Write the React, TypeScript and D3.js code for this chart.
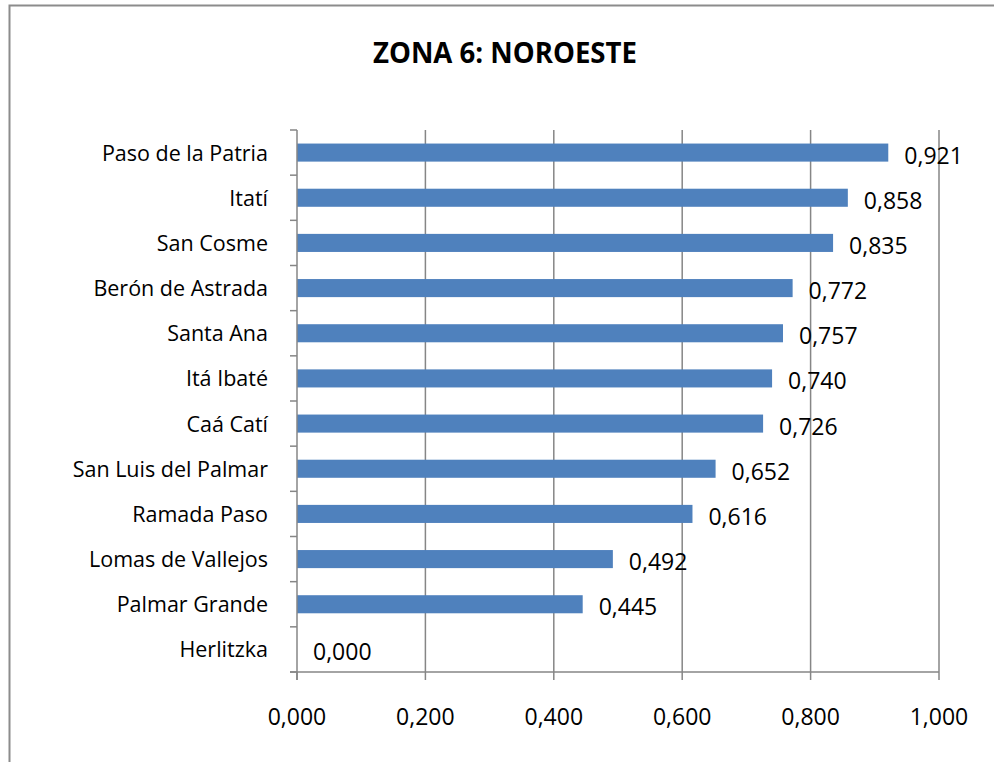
import React, {useEffect, useRef} from 'react'
import * as d3 from 'd3'

const categories = [
  'Paso de la Patria',
  'Itatí',
  'San Cosme',
  'Berón de Astrada',
  'Santa Ana',
  'Itá Ibaté',
  'Caá Catí',
  'San Luis del Palmar',
  'Ramada Paso',
  'Lomas de Vallejos',
  'Palmar Grande',
  'Herlitzka',
]
const values = [0.921, 0.858, 0.835, 0.772, 0.757, 0.74, 0.726, 0.652, 0.616, 0.492, 0.445, 0.0]
const xTicks = [0, 0.2, 0.4, 0.6, 0.8, 1.0]
const title = 'ZONA 6: NOROESTE'

const fmt = (v: number) => v.toFixed(3).replace('.', ',')

export default function App() {
  const node = useRef<SVGSVGElement>(null)

  useEffect(() => {
    const width = 994
    const height = 762
    const left = 297
    const right = 939
    const top = 130
    const bottom = 672
    const font = 'Open Sans, sans-serif'

    const svg = d3.select(node.current)
    svg.selectAll('*').remove()

    const x = d3.scaleLinear().domain([0, 1]).range([left, right])
    const y = d3
      .scaleBand()
      .domain(categories)
      .range([top, bottom])
      .paddingInner(0.6)
      .paddingOuter(0.3)

    // frame
    svg
      .append('path')
      .attr('d', `M9.5,${height + 5}V5.5H${width + 5}`)
      .attr('fill', 'none')
      .attr('stroke', '#8c8c8c')
      .attr('stroke-width', 2)

    svg
      .append('text')
      .attr('x', 505)
      .attr('y', 63)
      .attr('text-anchor', 'middle')
      .attr('font-family', font)
      .attr('font-weight', 'bold')
      .attr('font-size', 28)
      .attr('textLength', 264)
      .attr('lengthAdjust', 'spacingAndGlyphs')
      .text(title)

    // vertical gridlines
    svg
      .append('g')
      .selectAll('line')
      .data(xTicks.slice(1))
      .join('line')
      .attr('x1', (d) => x(d))
      .attr('x2', (d) => x(d))
      .attr('y1', top)
      .attr('y2', bottom)
      .attr('stroke', '#868686')
      .attr('stroke-width', 1.5)

    // bars
    svg
      .append('g')
      .selectAll('rect')
      .data(values)
      .join('rect')
      .attr('x', x(0))
      .attr('y', (d, i) => y(categories[i]))
      .attr('width', (d) => x(d) - x(0))
      .attr('height', y.bandwidth())
      .attr('fill', '#4f81bd')

    // axes
    const step = y.step()
    const boundaries = d3.range(categories.length + 1).map((i) => top + i * step)
    const axis = svg.append('g').attr('stroke', '#868686').attr('stroke-width', 1.5)
    axis.append('line').attr('x1', left).attr('x2', left).attr('y1', top).attr('y2', bottom + 8)
    axis.append('line').attr('x1', left - 7).attr('x2', right).attr('y1', bottom).attr('y2', bottom)
    axis
      .selectAll('line.yt')
      .data(boundaries)
      .join('line')
      .attr('class', 'yt')
      .attr('x1', left - 7)
      .attr('x2', left)
      .attr('y1', (d) => d)
      .attr('y2', (d) => d)
    axis
      .selectAll('line.xt')
      .data(xTicks)
      .join('line')
      .attr('class', 'xt')
      .attr('x1', (d) => x(d))
      .attr('x2', (d) => x(d))
      .attr('y1', bottom)
      .attr('y2', bottom + 8)

    const labels = svg
      .append('g')
      .attr('font-family', font)
      .attr('fill', '#000')

    labels
      .selectAll('text.cat')
      .data(categories)
      .join('text')
      .attr('class', 'cat')
      .attr('x', 268)
      .attr('y', (d) => y(d) + y.bandwidth() / 2 + 8)
      .attr('text-anchor', 'end')
      .attr('font-size', 21.5)
      .text((d) => d)

    labels
      .selectAll('text.val')
      .data(values)
      .join('text')
      .attr('class', 'val')
      .attr('x', (d) => x(d) + 16)
      .attr('y', (d, i) => y(categories[i]) + y.bandwidth() / 2 + 11)
      .attr('font-size', 23)
      .text((d) => fmt(d))

    labels
      .selectAll('text.tick')
      .data(xTicks)
      .join('text')
      .attr('class', 'tick')
      .attr('x', (d) => x(d))
      .attr('y', 725)
      .attr('text-anchor', 'middle')
      .attr('font-size', 23)
      .text((d) => fmt(d))
  }, [])

  return (
    <svg
      ref={node}
      width={994}
      height={762}
      style={{position: 'absolute', left: 0, top: 0, background: '#fff'}}
    />
  )
}
